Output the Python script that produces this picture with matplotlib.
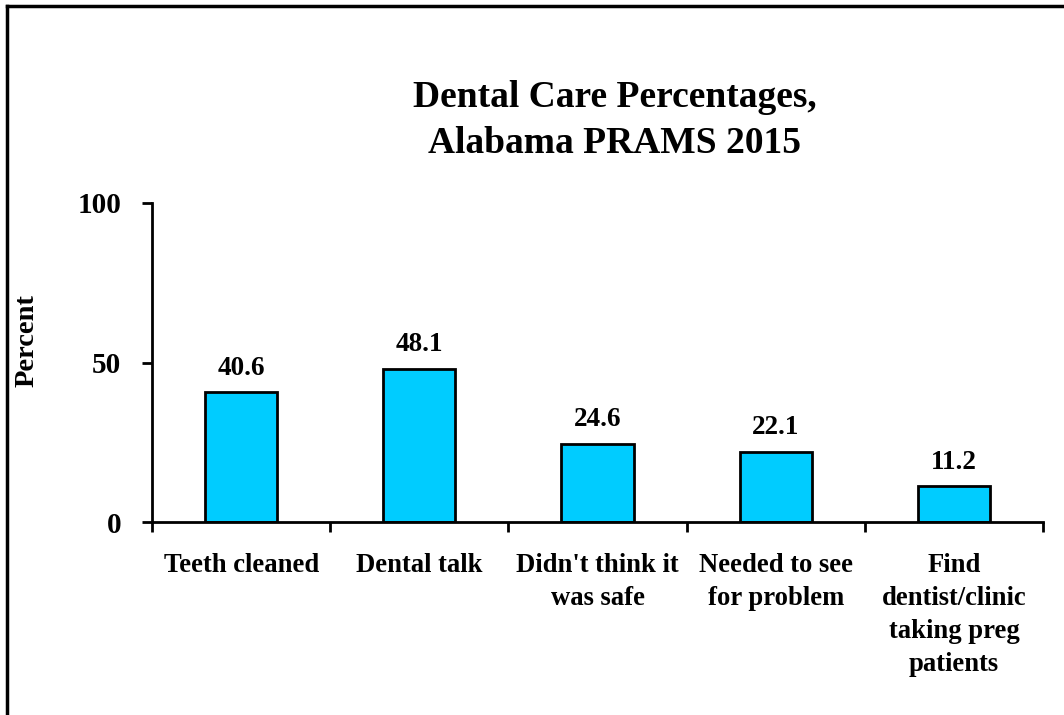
import matplotlib
matplotlib.use("Agg")
from matplotlib import pyplot as plt
from matplotlib.lines import Line2D

categories = ["Teeth cleaned", "Dental talk", "Didn't think it\nwas safe",
              "Needed to see\nfor problem", "Find\ndentist/clinic\ntaking preg\npatients"]
values = [40.6, 48.1, 24.6, 22.1, 11.2]

plt.rcParams["font.family"] = "Liberation Serif"
plt.rcParams["font.weight"] = "bold"

fig = plt.figure(figsize=(10.64, 7.15), dpi=100)
ax = fig.add_axes([0.1429, 0.2699, 0.8374, 0.4462])

x = list(range(len(values)))
bars = ax.bar(x, values, width=0.405, color="#00CCFF", edgecolor="black", linewidth=2)
for xi, v in zip(x, values):
    ax.annotate("%.1f" % v, (xi, v), xytext=(0, 8), textcoords="offset points",
                ha="center", va="bottom", fontsize=19.5, fontweight="bold")

ax.set_xlim(-0.5, len(values) - 0.5)
ax.set_ylim(0, 100)
ax.set_yticks([0, 50, 100])
ax.set_yticklabels(["0", "50", "100"], fontsize=21, fontweight="bold")
ax.set_xticks([i + 0.5 for i in range(-1, len(values))])
ax.set_xticklabels([])
ax.set_xticks(x, minor=True)
ax.set_xticklabels(categories, minor=True, fontsize=19.2, fontweight="bold", linespacing=1.42, va="top")
ax.tick_params(axis="x", which="minor", length=0, pad=22)
ax.tick_params(axis="x", which="major", length=7, width=2, direction="out")
ax.tick_params(axis="y", length=7, width=2, direction="out", pad=15)

for side in ["top", "right"]:
    ax.spines[side].set_visible(False)
for side in ["left", "bottom"]:
    ax.spines[side].set_linewidth(2)

ax.set_ylabel("Percent", fontsize=20.5, fontweight="bold")
ax.yaxis.set_label_coords(-0.126, 0.57)

fig.text(0.578, 0.831, "Dental Care Percentages,\nAlabama PRAMS 2015", ha="center", va="center",
         fontsize=27, fontweight="bold", linespacing=1.4)

# border on top and left only
fig.add_artist(Line2D([0.0066, 1.0], [0.9916, 0.9916], color="black", linewidth=2.5, transform=fig.transFigure))
fig.add_artist(Line2D([0.0066, 0.0066], [0.0, 0.9916], color="black", linewidth=2.5, transform=fig.transFigure))

fig.savefig("out.png", dpi=100)
